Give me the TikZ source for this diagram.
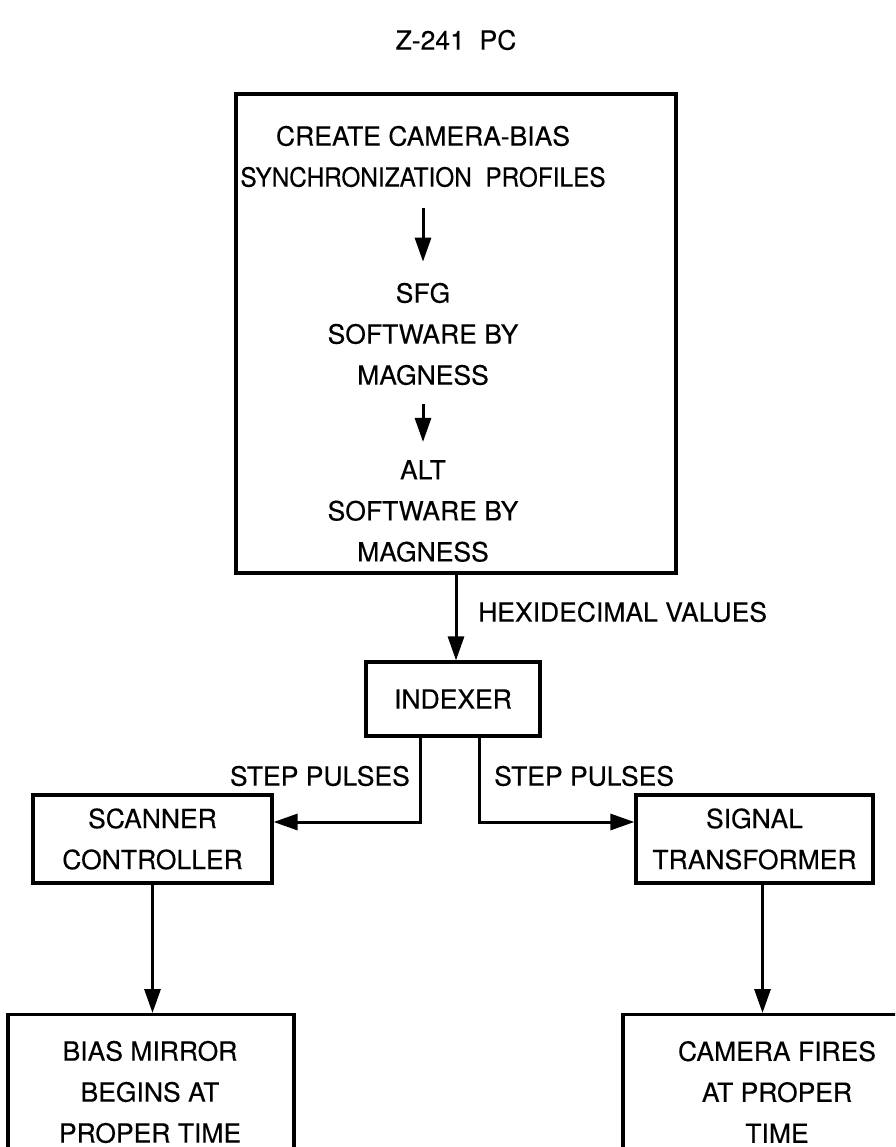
\documentclass[tikz,border=0pt]{standalone}
\usepackage{fontspec}
\setmainfont[FakeBold=0.3]{TeX Gyre Heros}
\usetikzlibrary{arrows.meta,calc}
\begin{document}
\begin{tikzpicture}[x=1pt,y=-1pt,
  every node/.style={font=\fontsize{26.5}{41}\selectfont, inner sep=0pt, align=center},
  box/.style={draw, line width=3.2pt, inner sep=0pt},
  arr/.style={line width=3pt, -{Triangle[width=16pt,length=24pt]}}]
\useasboundingbox (0,0) rectangle (895,1147);
\clip (0,0) rectangle (895,1147);
\node (title) at (456,40) {Z-241\ \ PC};
\node[box, minimum width=440pt, minimum height=479pt] (pc) at (456,333.5) {};
\node (t1) at (423,156.5) {CREATE CAMERA-BIAS\\\scalebox{0.92}[1]{SYNCHRONIZATION\ \ PROFILES}};
\node (t2) at (423,334) {SFG\\SOFTWARE BY\\MAGNESS};
\node (t3) at (423,511) {ALT\\SOFTWARE BY\\MAGNESS};
\draw[arr] ($(t1.south)+(0,21)$) -- ($(t2.north)+(0,-21)$);
\draw[arr] ($(t2.south)+(0,19)$) -- ($(t3.north)+(0,-18)$);
\node[box, minimum width=174pt, minimum height=74pt] (idx) at (453,699) {INDEXER};
\draw[arr] (pc.south) -- (pc.south |- idx.north);
\node[anchor=west] (hex) at (478,612) {HEXIDECIMAL VALUES};
\node[box, minimum width=239pt, minimum height=88pt] (scan) at (152.5,839) {SCANNER\\CONTROLLER};
\node[box, minimum width=237pt, minimum height=88pt] (sig) at (754.5,839) {SIGNAL\\TRANSFORMER};
\node[anchor=east] (sp1) at (410,776) {STEP PULSES};
\node[anchor=west] (sp2) at (494,776) {STEP PULSES};
\coordinate (jl) at ($(idx.south)+(-33,0)$);
\coordinate (jr) at ($(idx.south)+(26,0)$);
\draw[arr] (jl) |- ($(scan.east)+(0,-17)$);
\draw[arr] (jr) |- ($(sig.west)+(0,-17)$);
\node[box, minimum width=286pt, minimum height=200pt, anchor=north] (bias) at (151,1013) {};
\node[box, minimum width=308pt, minimum height=200pt, anchor=north] (cam) at (777,1013) {};
\node (biast) at (150,1092) {BIAS MIRROR\\BEGINS AT\\PROPER TIME};
\node (camt) at (777,1092) {CAMERA FIRES\\AT PROPER\\TIME};
\coordinate (sigout) at ($(sig.south)+(8,0)$);
\draw[arr] (scan.south) -- (scan.south |- bias.north);
\draw[arr] (sigout) -- (sigout |- cam.north);
\end{tikzpicture}
\end{document}
